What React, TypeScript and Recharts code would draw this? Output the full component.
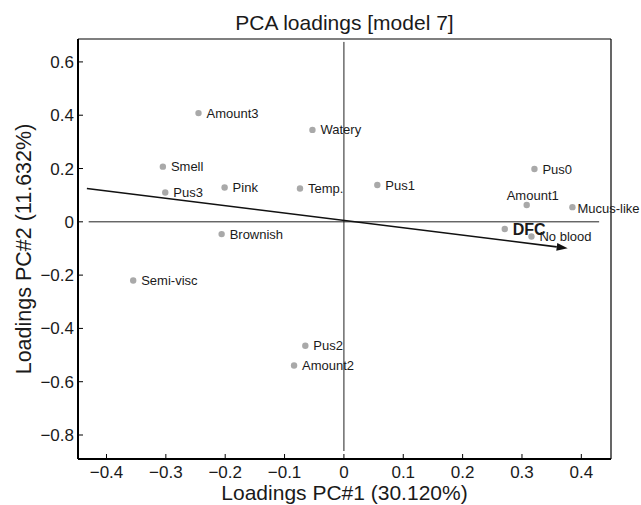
import React from 'react';
import { ScatterChart, Scatter, XAxis, YAxis, ReferenceLine } from 'recharts';

const names = ['Amount3', 'Watery', 'Smell', 'Pus3', 'Pink', 'Temp.', 'Brownish', 'Pus1', 'Pus0', 'Amount1', 'Mucus-like', 'DFC', 'No blood', 'Semi-visc', 'Pus2', 'Amount2'];
const pc1 = [-0.245, -0.053, -0.305, -0.301, -0.201, -0.074, -0.206, 0.0563, 0.321, 0.308, 0.385, 0.271, 0.316, -0.355, -0.065, -0.084];
const pc2 = [0.408, 0.345, 0.207, 0.11, 0.129, 0.125, -0.046, 0.138, 0.198, 0.063, 0.055, -0.027, -0.055, -0.22, -0.465, -0.539];

const xTicks = [-0.4, -0.3, -0.2, -0.1, 0, 0.1, 0.2, 0.3, 0.4];
const yTicks = [-0.8, -0.6, -0.4, -0.2, 0, 0.2, 0.4, 0.6];

const arrowStart = { x: -0.433, y: 0.125 };
const arrowEnd = { x: 0.377, y: -0.099 };

const title = 'PCA loadings [model 7]';
const xLabel = 'Loadings PC#1 (30.120%)';
const yLabel = 'Loadings PC#2 (11.632%)';

const points = names.map((n, i) => ({ name: n, x: pc1[i], y: pc2[i] }));

const labelOffsets: Record<string, [number, number]> = {
  'Mucus-like': [5, 1],
  Amount1: [-20, -10],
};

const FONT = '"Liberation Sans", Arial, Helvetica, sans-serif';

const fmt = (v: number) => (v === 0 ? '0' : v < 0 ? '\u2212' + Math.abs(v).toFixed(1) : v.toFixed(1));

const PointShape = (props: any) => {
  const { cx, cy, payload } = props;
  const name = payload.name as string;
  const off = labelOffsets[name] || [8, 0];
  const isDFC = name === 'DFC';
  return (
    <g>
      <circle cx={cx} cy={cy} r={3.2} fill="#a9a9a9" />
      <text
        x={cx + off[0]}
        y={cy + off[1]}
        dominantBaseline="central"
        fontFamily={FONT}
        fontSize={isDFC ? 16 : 13}
        fontWeight={isDFC ? 'bold' : 'normal'}
        fill="#1a1a1a"
      >
        {name}
      </text>
    </g>
  );
};

const ArrowShape = (props: any) => {
  const { x1, y1, x2, y2 } = props;
  const ang = Math.atan2(y2 - y1, x2 - x1);
  const len = 11;
  const hw = 4;
  const bx = x2 - len * Math.cos(ang);
  const by = y2 - len * Math.sin(ang);
  const px = -Math.sin(ang) * hw;
  const py = Math.cos(ang) * hw;
  return (
    <g>
      <line x1={x1} y1={y1} x2={bx} y2={by} stroke="#111" strokeWidth={1.6} />
      <polygon points={`${x2},${y2} ${bx + px},${by + py} ${bx - px},${by - py}`} fill="#111" />
    </g>
  );
};

export default function App() {
  return (
    <div style={{ position: 'absolute', left: 0, top: 0, background: '#fff' }}>
      <ScatterChart width={641} height={505} margin={{ top: 38, right: 29, bottom: 16, left: 18 }}>
        <XAxis
          xAxisId="bottom"
          type="number"
          dataKey="x"
          orientation="bottom"
          domain={[-0.448, 0.45]}
          ticks={xTicks}
          tickFormatter={fmt}
          height={30}
          tickSize={-5}
          tickMargin={12}
          axisLine={{ stroke: '#000', strokeWidth: 2 }}
          tickLine={{ stroke: '#000', strokeWidth: 1 }}
          tick={{ fill: '#1a1a1a', fontSize: 17, fontFamily: FONT }}
          label={{
            content: (p: any) => {
              const vb = p.viewBox;
              return (
                <text x={vb.x + vb.width / 2} y={vb.y + 41} textAnchor="middle" fontFamily={FONT} fontSize={21} fill="#1a1a1a">
                  {xLabel}
                </text>
              );
            },
          }}
        />
        <XAxis
          xAxisId="top"
          type="number"
          dataKey="x"
          orientation="top"
          domain={[-0.448, 0.45]}
          ticks={xTicks}
          height={1}
          tickSize={-5}
          axisLine={{ stroke: '#000', strokeWidth: 1.2 }}
          tickLine={{ stroke: '#000', strokeWidth: 1 }}
          tick={() => <g />}
          label={{
            content: (p: any) => {
              const vb = p.viewBox;
              return (
                <text x={vb.x + vb.width / 2} y={vb.y - 8} textAnchor="middle" fontFamily={FONT} fontSize={21} fill="#1a1a1a">
                  {title}
                </text>
              );
            },
          }}
        />
        <YAxis
          yAxisId="left"
          type="number"
          dataKey="y"
          orientation="left"
          domain={[-0.89, 0.686]}
          ticks={yTicks}
          tickFormatter={fmt}
          width={60}
          tickSize={-5}
          tickMargin={9}
          axisLine={{ stroke: '#000', strokeWidth: 2 }}
          tickLine={{ stroke: '#000', strokeWidth: 1 }}
          tick={{ fill: '#1a1a1a', fontSize: 17, fontFamily: FONT }}
          label={{
            content: (p: any) => {
              const vb = p.viewBox;
              const x = vb.x + 13;
              const y = 249;
              return (
                <text x={x} y={y} textAnchor="middle" transform={`rotate(-90 ${x} ${y})`} fontFamily={FONT} fontSize={21.5} fill="#1a1a1a">
                  {yLabel}
                </text>
              );
            },
          }}
        />
        <YAxis
          yAxisId="right"
          type="number"
          dataKey="y"
          orientation="right"
          domain={[-0.89, 0.686]}
          ticks={yTicks}
          width={1}
          tickSize={-5}
          axisLine={{ stroke: '#000', strokeWidth: 1.2 }}
          tickLine={{ stroke: '#000', strokeWidth: 1 }}
          tick={() => <g />}
        />
        <ReferenceLine
          xAxisId="bottom"
          yAxisId="left"
          segment={[{ x: -0.43, y: 0 }, { x: 0.43, y: 0 }]}
          stroke="#222"
          strokeWidth={1}
        />
        <ReferenceLine
          xAxisId="bottom"
          yAxisId="left"
          segment={[{ x: 0, y: 0.675 }, { x: 0, y: -0.86 }]}
          stroke="#222"
          strokeWidth={1}
        />
        <Scatter
          xAxisId="bottom"
          yAxisId="left"
          data={points}
          isAnimationActive={false}
          shape={PointShape}
        />
        <ReferenceLine
          xAxisId="bottom"
          yAxisId="left"
          segment={[arrowStart, arrowEnd]}
          shape={ArrowShape}
        />
      </ScatterChart>
    </div>
  );
}
